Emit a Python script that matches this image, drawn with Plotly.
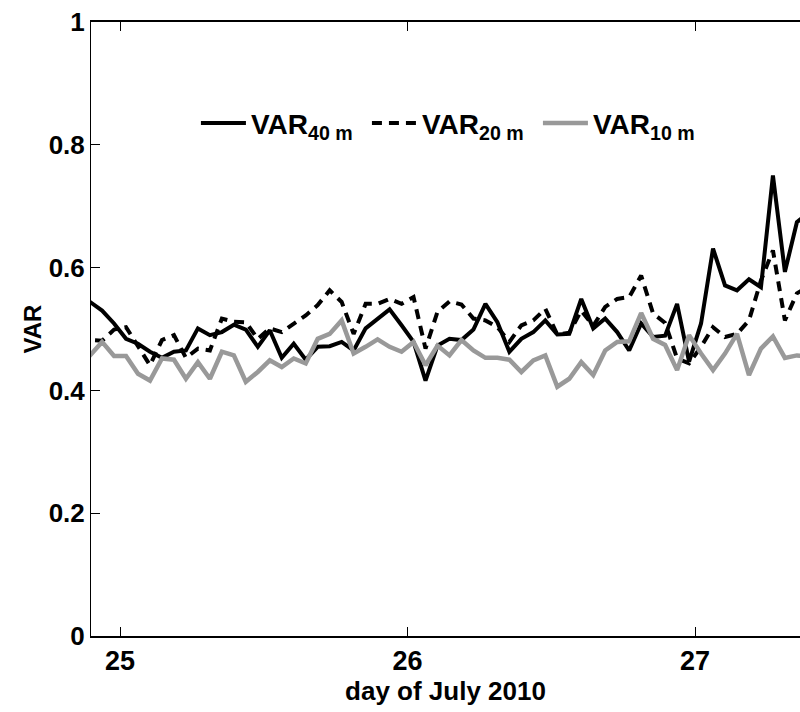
import plotly.graph_objects as go

# sample times: hours after 00:00 on 25 July 2010 (hourly values centred on the half hour)
hours = [h + 0.5 for h in range(-4, 58)]
day = [25 + h / 24 for h in hours]

var40 = [0.550, 0.544, 0.530, 0.509, 0.484, 0.476, 0.463, 0.453, 0.463, 0.465,
         0.501, 0.490, 0.495, 0.507, 0.499, 0.471, 0.498, 0.453, 0.476, 0.450,
         0.471, 0.472, 0.479, 0.465, 0.501, 0.517, 0.532, 0.506, 0.479, 0.416,
         0.473, 0.484, 0.482, 0.499, 0.541, 0.511, 0.463, 0.484, 0.495, 0.514,
         0.491, 0.492, 0.549, 0.501, 0.517, 0.495, 0.465, 0.509, 0.487, 0.489,
         0.541, 0.447, 0.509, 0.631, 0.571, 0.563, 0.581, 0.568, 0.750, 0.593,
         0.674, 0.690]

var20 = [0.480, 0.482, 0.481, 0.499, 0.503, 0.473, 0.441, 0.482, 0.490, 0.453,
         0.468, 0.465, 0.517, 0.512, 0.511, 0.484, 0.501, 0.495, 0.509, 0.522,
         0.539, 0.563, 0.544, 0.492, 0.541, 0.541, 0.549, 0.541, 0.552, 0.468,
         0.528, 0.545, 0.540, 0.517, 0.514, 0.503, 0.479, 0.506, 0.514, 0.533,
         0.491, 0.494, 0.530, 0.505, 0.536, 0.549, 0.552, 0.587, 0.525, 0.510,
         0.452, 0.444, 0.471, 0.503, 0.487, 0.492, 0.514, 0.579, 0.628, 0.514,
         0.558, 0.570]

var10 = [0.450, 0.457, 0.479, 0.456, 0.456, 0.427, 0.416, 0.452, 0.450, 0.419,
         0.446, 0.419, 0.463, 0.457, 0.414, 0.430, 0.449, 0.438, 0.452, 0.444,
         0.484, 0.492, 0.514, 0.460, 0.471, 0.483, 0.471, 0.463, 0.479, 0.441,
         0.473, 0.457, 0.482, 0.465, 0.453, 0.453, 0.450, 0.430, 0.449, 0.457,
         0.406, 0.419, 0.446, 0.425, 0.465, 0.479, 0.480, 0.526, 0.484, 0.474,
         0.433, 0.490, 0.460, 0.433, 0.460, 0.492, 0.425, 0.468, 0.488, 0.453,
         0.457, 0.455]

series_names = ["VAR<sub>40 m</sub>", "VAR<sub>20 m</sub>", "VAR<sub>10 m</sub>"]
x_ticks = [25, 26, 27]
x_ticklabels = ["25", "26", "27"]
y_ticks = [0, 0.2, 0.4, 0.6, 0.8, 1]
y_ticklabels = ["0", "0.2", "0.4", "0.6", "0.8", "1"]

FONT = "Liberation Sans, Arial, Helvetica, sans-serif"

fig = go.Figure()
fig.add_trace(go.Scatter(x=day, y=var40, mode="lines", name=series_names[0],
                         line=dict(color="black", width=4)))
fig.add_trace(go.Scatter(x=day, y=var20, mode="lines", name=series_names[1],
                         line=dict(color="black", width=4, dash="10px,7px")))
fig.add_trace(go.Scatter(x=day, y=var10, mode="lines", name=series_names[2],
                         line=dict(color="rgb(153,153,153)", width=4.5)))

fig.update_layout(
    width=800, height=712,
    margin=dict(l=91, r=0, t=22, b=76),
    paper_bgcolor="white", plot_bgcolor="white",
    font=dict(family=FONT, size=26, color="black", weight="bold"),
    showlegend=True,
    legend=dict(orientation="h", x=0.148, y=0.835, xanchor="left", yanchor="middle",
                bgcolor="rgba(0,0,0,0)", itemwidth=45,
                entrywidth=111, entrywidthmode="pixels",
                font=dict(family=FONT, size=28, color="black", weight="bold"),
                tracegroupgap=0, itemclick=False),
    xaxis=dict(range=[24.899, 27.365], tickvals=x_ticks, ticktext=x_ticklabels,
               showline=True, linecolor="black", linewidth=1.5, mirror="allticks",
               ticks="inside", ticklen=9, tickwidth=1, tickcolor="black",
               showgrid=False, zeroline=False,
               title=dict(text="day of July 2010", standoff=2,
                          font=dict(family=FONT, size=26, weight="bold")),
               tickfont=dict(family=FONT, size=27, weight="bold")),
    yaxis=dict(range=[0, 1], tickvals=y_ticks, ticktext=y_ticklabels,
               showline=True, linecolor="black", linewidth=1,
               ticks="inside", ticklen=9, tickwidth=1, tickcolor="black",
               showgrid=False, zeroline=False,
               title=dict(text="VAR", standoff=0,
                          font=dict(family=FONT, size=24, weight="bold")),
               tickfont=dict(family=FONT, size=26, weight="bold")),
)

fig.write_html("out.html")
